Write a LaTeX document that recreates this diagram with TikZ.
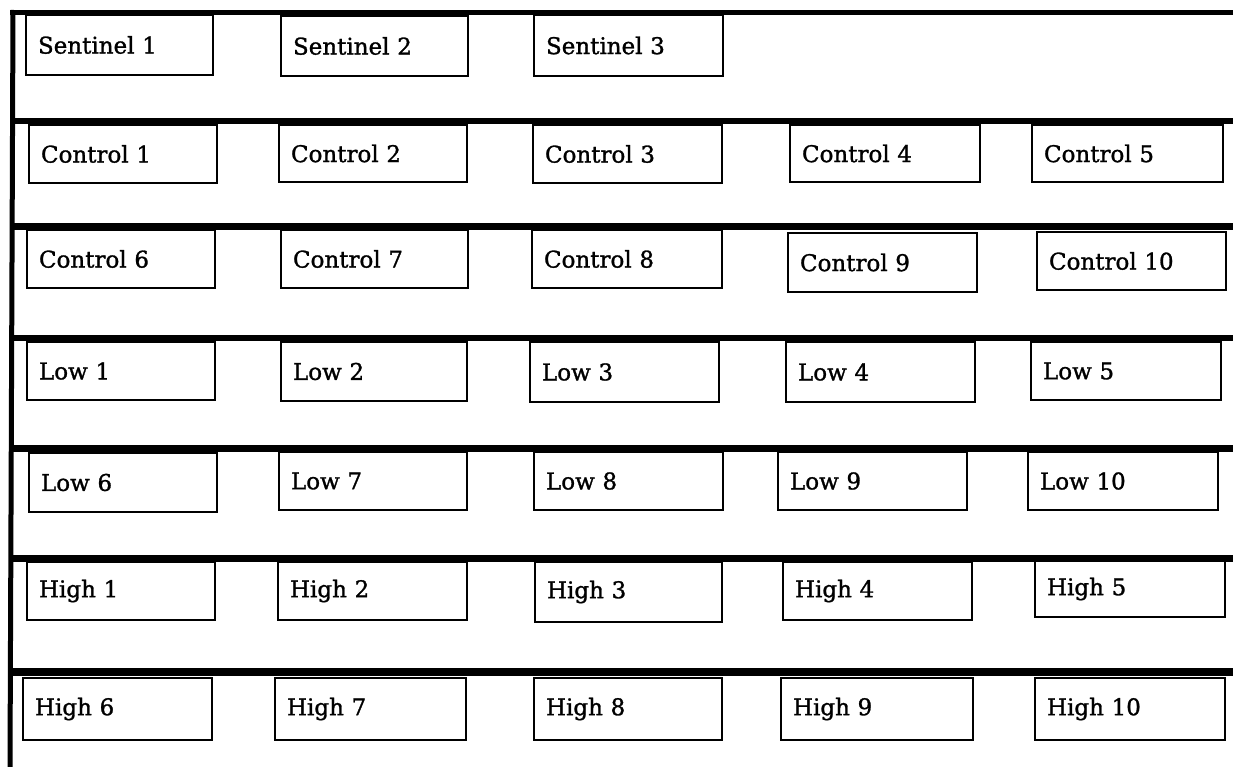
\documentclass[tikz,border=0pt]{standalone}
\usepackage{fontspec}
\setmainfont[FakeBold=1.2]{DejaVu Serif}
\begin{document}
\begin{tikzpicture}[x=1pt,y=-1pt,
  cell/.style={draw=black, line width=2pt, fill=white, inner xsep=12pt, inner ysep=0pt,
    align=left, font=\fontsize{23}{25}\selectfont},
  rule/.style={line width=6pt, black},
  spine/.style={line width=5pt, black}]
\useasboundingbox[fill=white] (0,0) rectangle (1233,767);

% a labelled box given by its corners: name, x1, y1, x2, y2, text
\newcommand\cellbox[6]{%
  \pgfmathsetmacro\tw{#4-#2-24}%
  \pgfmathsetmacro\bh{#5-#3}%
  \node[cell, text width=\tw pt, minimum height=\bh pt] (#1) at ({(#2+#4)/2},{(#3+#5)/2}) {#6};}

% left spine and the shelf rules
\coordinate (spT) at (13,10);
\coordinate (spB) at (10,767);
\draw[spine] (spT) -- (spB);
\foreach \i/\y/\w in {1/12.5/5, 2/121/6.5, 3/226.5/6.5, 4/338/6.5, 5/448.5/6.5, 6/558.5/6.5, 7/672/8}{
  \coordinate (ruleL\i) at (10,\y);
  \coordinate (ruleR\i) at (1233,\y);
  \draw[rule, line width=\w pt] (ruleL\i) -- (ruleR\i);
}

% shelf 1
\cellbox{s1}{26}{15}{213}{75}{Sentinel 1}
\cellbox{s2}{281}{16}{468}{76}{Sentinel 2}
\cellbox{s3}{534}{15}{723}{76}{Sentinel 3}
% shelf 2
\cellbox{c1}{29}{125}{217}{183}{Control 1}
\cellbox{c2}{279}{125}{467}{182}{Control 2}
\cellbox{c3}{533}{125}{722}{183}{Control 3}
\cellbox{c4}{790}{125}{980}{182}{Control 4}
\cellbox{c5}{1032}{125}{1223}{182}{Control 5}
% shelf 3
\cellbox{c6}{27}{230}{215}{288}{Control 6}
\cellbox{c7}{281}{230}{468}{288}{Control 7}
\cellbox{c8}{532}{230}{722}{288}{Control 8}
\cellbox{c9}{788}{233}{977}{292}{Control 9}
\cellbox{c10}{1037}{232}{1226}{290}{Control 10}
% shelf 4
\cellbox{l1}{27}{342}{215}{400}{Low 1}
\cellbox{l2}{281}{342}{467}{401}{Low 2}
\cellbox{l3}{530}{342}{719}{402}{Low 3}
\cellbox{l4}{786}{342}{975}{402}{Low 4}
\cellbox{l5}{1031}{342}{1221}{400}{Low 5}
% shelf 5
\cellbox{l6}{29}{453}{217}{512}{Low 6}
\cellbox{l7}{279}{452}{467}{510}{Low 7}
\cellbox{l8}{534}{452}{723}{510}{Low 8}
\cellbox{l9}{778}{452}{967}{510}{Low 9}
\cellbox{l10}{1028}{452}{1218}{510}{Low 10}
% shelf 6
\cellbox{h1}{27}{562}{215}{620}{High 1}
\cellbox{h2}{278}{562}{467}{620}{High 2}
\cellbox{h3}{535}{562}{722}{622}{High 3}
\cellbox{h4}{783}{562}{972}{620}{High 4}
\cellbox{h5}{1035}{561}{1225}{617}{High 5}
% shelf 7
\cellbox{h6}{23}{678}{212}{740}{High 6}
\cellbox{h7}{275}{678}{466}{740}{High 7}
\cellbox{h8}{534}{678}{722}{740}{High 8}
\cellbox{h9}{781}{678}{973}{740}{High 9}
\cellbox{h10}{1035}{678}{1225}{740}{High 10}
\end{tikzpicture}
\end{document}
